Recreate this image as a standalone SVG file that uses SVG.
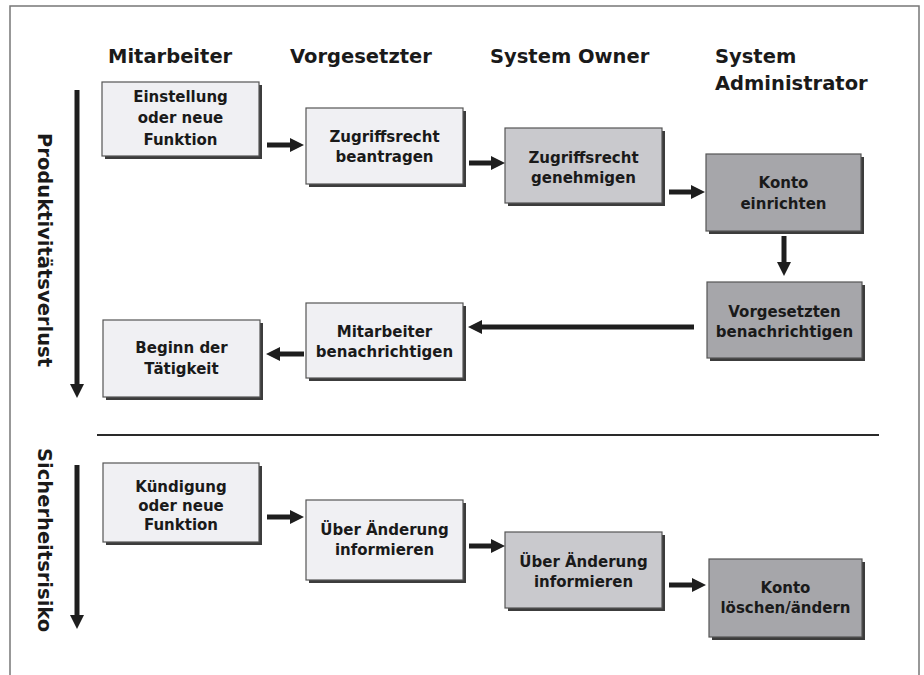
<svg xmlns="http://www.w3.org/2000/svg" width="924" height="675" viewBox="0 0 924 675">
<style>
  text { font-family: "DejaVu Sans", "Liberation Sans", sans-serif; font-weight: bold; fill: #1a1a1a; }
  .hdr { font-size: 19.5px; }
  .side { font-size: 19.5px; }
  .lbl { font-size: 15px; text-anchor: middle; }
  .shadow { fill: #3c3c3c; }
  .box { stroke: #555; stroke-width: 1.2; }
  .light { fill: #f0f0f3; }
  .mid { fill: #c9c9cd; }
  .dark { fill: #a6a6aa; }
  .arrow { stroke: #1e1e1e; stroke-width: 5; fill: none; marker-end: url(#head); }
</style>
<defs>
  <marker id="head" viewBox="0 0 14 14" markerWidth="14" markerHeight="14" markerUnits="userSpaceOnUse" refX="2" refY="7" orient="auto">
    <path d="M0,0 L14,7 L0,14 z" fill="#1e1e1e"/>
  </marker>
</defs>
<rect x="0" y="0" width="924" height="675" fill="#ffffff"/>
<path d="M10,676 L10,6 L919,6 L919,676" fill="none" stroke="#777" stroke-width="1.5"/>

<g id="headers">
  <text class="hdr" x="108" y="63">Mitarbeiter</text>
  <text class="hdr" x="290" y="63">Vorgesetzter</text>
  <text class="hdr" x="490" y="63">System Owner</text>
  <text class="hdr" x="715" y="63">System</text>
  <text class="hdr" x="715" y="90">Administrator</text>
</g>

<g id="side-labels">
  <text class="side" transform="translate(38,133) rotate(90)">Produktivitätsverlust</text>
  <text class="side" transform="translate(38,448) rotate(90)">Sicherheitsrisiko</text>
</g>

<line id="separator" x1="97" y1="435" x2="879" y2="435" stroke="#2a2a2a" stroke-width="2"/>

<g id="n1">
  <rect class="shadow" x="105" y="85" width="157" height="74"/>
  <rect class="box light" x="102" y="82" width="157" height="74"/>
  <text class="lbl" x="180.5" y="102">Einstellung</text>
  <text class="lbl" x="180.5" y="123">oder neue</text>
  <text class="lbl" x="180.5" y="145">Funktion</text>
</g>
<g id="n2">
  <rect class="shadow" x="309" y="111" width="157" height="76"/>
  <rect class="box light" x="306" y="108" width="157" height="76"/>
  <text class="lbl" x="384.5" y="142">Zugriffsrecht</text>
  <text class="lbl" x="384.5" y="162">beantragen</text>
</g>
<g id="n3">
  <rect class="shadow" x="508" y="131" width="157" height="75"/>
  <rect class="box mid" x="505" y="128" width="157" height="75"/>
  <text class="lbl" x="583.5" y="163">Zugriffsrecht</text>
  <text class="lbl" x="583.5" y="183">genehmigen</text>
</g>
<g id="n4">
  <rect class="shadow" x="709" y="157" width="155" height="77"/>
  <rect class="box dark" x="706" y="154" width="155" height="77"/>
  <text class="lbl" x="783.5" y="188">Konto</text>
  <text class="lbl" x="783.5" y="209">einrichten</text>
</g>
<g id="n5">
  <rect class="shadow" x="710" y="285" width="155" height="76"/>
  <rect class="box dark" x="707" y="282" width="155" height="76"/>
  <text class="lbl" x="784.5" y="317">Vorgesetzten</text>
  <text class="lbl" x="784.5" y="337">benachrichtigen</text>
</g>
<g id="n6">
  <rect class="shadow" x="309" y="306" width="157" height="75"/>
  <rect class="box light" x="306" y="303" width="157" height="75"/>
  <text class="lbl" x="384.5" y="337">Mitarbeiter</text>
  <text class="lbl" x="384.5" y="357">benachrichtigen</text>
</g>
<g id="n7">
  <rect class="shadow" x="106" y="323" width="157" height="77"/>
  <rect class="box light" x="103" y="320" width="157" height="77"/>
  <text class="lbl" x="181.5" y="353">Beginn der</text>
  <text class="lbl" x="181.5" y="374">Tätigkeit</text>
</g>
<g id="n8">
  <rect class="shadow" x="106" y="466" width="156" height="79"/>
  <rect class="box light" x="103" y="463" width="156" height="79"/>
  <text class="lbl" x="181" y="492">Kündigung</text>
  <text class="lbl" x="181" y="511">oder neue</text>
  <text class="lbl" x="181" y="530">Funktion</text>
</g>
<g id="n9">
  <rect class="shadow" x="309" y="503" width="157" height="80"/>
  <rect class="box light" x="306" y="500" width="157" height="80"/>
  <text class="lbl" x="384.5" y="535">Über Änderung</text>
  <text class="lbl" x="384.5" y="555">informieren</text>
</g>
<g id="n10">
  <rect class="shadow" x="508" y="535" width="157" height="76"/>
  <rect class="box mid" x="505" y="532" width="157" height="76"/>
  <text class="lbl" x="583.5" y="567">Über Änderung</text>
  <text class="lbl" x="583.5" y="587">informieren</text>
</g>
<g id="n11">
  <rect class="shadow" x="712" y="562" width="153" height="78"/>
  <rect class="box dark" x="709" y="559" width="153" height="78"/>
  <text class="lbl" x="785.5" y="593">Konto</text>
  <text class="lbl" x="785.5" y="613">löschen/ändern</text>
</g>

<g id="connectors">
  <line class="arrow" x1="77" y1="90" x2="77" y2="386"/>
  <line class="arrow" x1="77" y1="465" x2="77" y2="617"/>
  <line class="arrow" x1="267" y1="145" x2="292" y2="145"/>
  <line class="arrow" x1="469" y1="163" x2="493" y2="163"/>
  <line class="arrow" x1="669" y1="192" x2="693" y2="192"/>
  <line class="arrow" x1="784" y1="236" x2="784" y2="264"/>
  <line class="arrow" x1="694" y1="327" x2="480" y2="327"/>
  <line class="arrow" x1="304" y1="354" x2="278" y2="354"/>
  <line class="arrow" x1="267" y1="517" x2="292" y2="517"/>
  <line class="arrow" x1="469" y1="546" x2="493" y2="546"/>
  <line class="arrow" x1="669" y1="585" x2="694" y2="585"/>
</g>
</svg>
